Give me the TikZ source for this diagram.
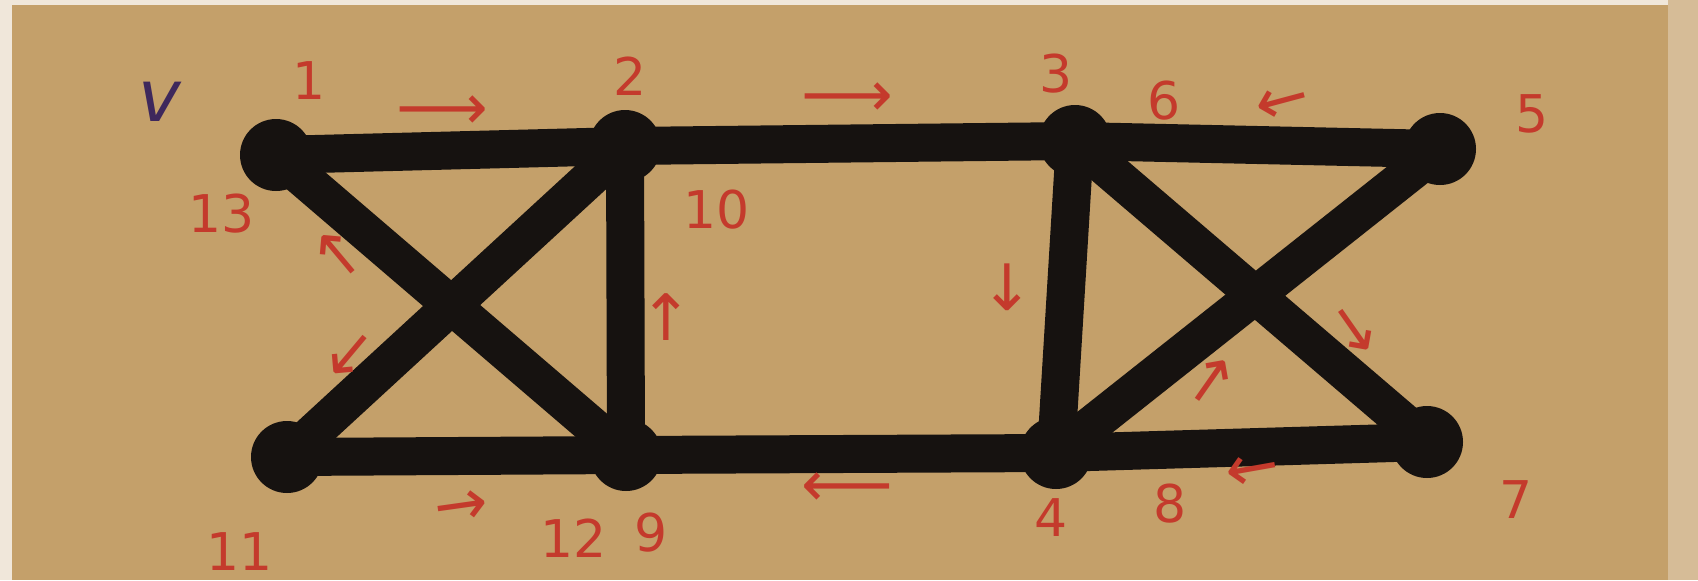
\documentclass[tikz,border=0pt]{standalone}
\usepackage{fontspec}
\setmainfont{DejaVu Sans}
\definecolor{paper}{RGB}{196,160,106}
\definecolor{ink}{RGB}{22,18,16}
\definecolor{redink}{RGB}{196,58,44}
\definecolor{blueink}{RGB}{62,40,92}
\begin{document}
\begin{tikzpicture}[x=0.5pt,y=-0.5pt,
  vert/.style={circle,fill=ink,draw=none,minimum size=36pt,inner sep=0pt},
  edge/.style={draw=ink,line width=19pt,line cap=round},
  lbl/.style={text=redink,font=\fontsize{26}{28}\selectfont,inner sep=0pt},
  arr/.style={text=redink,font=\fontsize{32}{34}\selectfont,inner sep=0pt}]
\fill[paper] (0,0) rectangle (1698,580);
\fill[white!75!paper] (0,0) rectangle (12,580);
\fill[white!75!paper] (0,0) rectangle (1698,5);
\fill[white!30!paper] (1668,0) rectangle (1698,580);
\useasboundingbox (0,0) rectangle (1698,580);
% vertices
\node[vert] (A) at (276,155) {};
\node[vert] (B) at (625,146) {};
\node[vert] (C) at (1075,141) {};
\node[vert] (D) at (1440,149) {};
\node[vert] (E) at (287,457) {};
\node[vert] (F) at (626,455) {};
\node[vert] (G) at (1056,453) {};
\node[vert] (H) at (1427,442) {};
% edges
\draw[edge] (A.center) -- (B.center);
\draw[edge] (B.center) -- (C.center);
\draw[edge] (C.center) -- (D.center);
\draw[edge] (A.center) -- (F.center);
\draw[edge] (B.center) -- (E.center);
\draw[edge] (B.center) -- (F.center);
\draw[edge] (E.center) -- (F.center);
\draw[edge] (F.center) -- (G.center);
\draw[edge] (G.center) -- (H.center);
\draw[edge] (C.center) -- (G.center);
\draw[edge] (C.center) -- (H.center);
\draw[edge] (D.center) -- (G.center);
% labels
\node[text=blueink,font=\fontsize{36}{38}\selectfont\itshape,inner sep=0pt] (lv) at (160,102) {v};
\node[lbl] (l1) at (309,81) {1};
\node[lbl] (l2) at (630,76) {2};
\node[lbl] (l3) at (1056,74) {3};
\node[lbl] (l6) at (1164,101) {6};
\node[lbl] (l5) at (1532,114) {5};
\node[lbl] (l13) at (222,214) {13};
\node[lbl] (l10) at (717,210) {10};
\node[lbl] (l8) at (1170,504) {8};
\node[lbl] (l4) at (1051,518) {4};
\node[lbl] (l7) at (1516,500) {7};
\node[lbl] (l11) at (240,552) {11};
\node[lbl] (l12) at (574,538) {12};
\node[lbl] (l9) at (651,533) {9};
% direction arrows
\node[arr] (a1) at (442,113) {⟶};
\node[arr] (a2) at (847,100) {⟶};
\node[arr,rotate=15] (a3) at (1283,104) {←};
\node[arr,rotate=40] (a4) at (338,254) {↑};
\node[arr,rotate=-40] (a5) at (350,355) {↓};
\node[arr] (a6) at (666,317) {↑};
\node[arr] (a7) at (1007,287) {↓};
\node[arr,rotate=35] (a8) at (1354,330) {↓};
\node[arr,rotate=-35] (a9) at (1211,381) {↑};
\node[arr,rotate=8] (a10) at (462,509) {→};
\node[arr] (a11) at (847,490) {⟵};
\node[arr,rotate=10] (a12) at (1253,472) {←};
\end{tikzpicture}
\end{document}
